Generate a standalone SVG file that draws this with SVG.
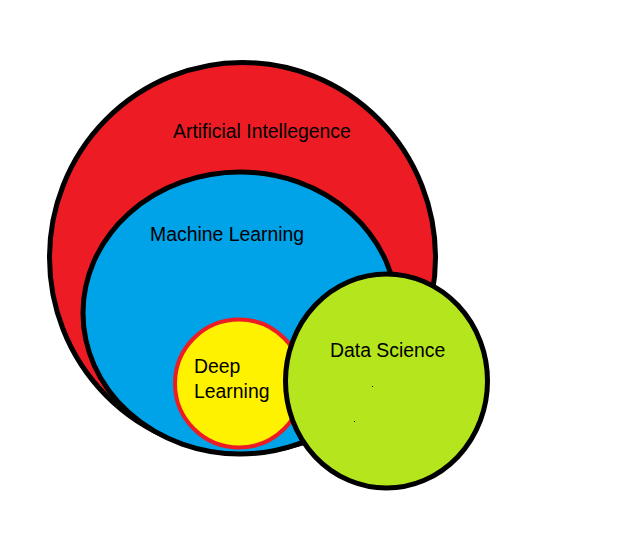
<svg xmlns="http://www.w3.org/2000/svg" width="632" height="558" viewBox="0 0 632 558">
<style>
.ring{stroke:#000;stroke-width:5}
.lbl{font-family:"Liberation Sans",Arial,sans-serif;font-size:19.4px;fill:#000}
</style>
<rect width="632" height="558" fill="#fff"/>
<g id="ai">
<ellipse class="ring" cx="242.5" cy="257.5" rx="193" ry="195" fill="#ed1c24"/>
<text class="lbl" x="173" y="138">Artificial Intellegence</text>
</g>
<g id="ml">
<ellipse class="ring" cx="240" cy="313" rx="157" ry="141" fill="#00a2e8"/>
<text class="lbl" x="150" y="241">Machine Learning</text>
</g>
<g id="dl">
<circle cx="239" cy="383.5" r="64" fill="#fff200" stroke="#ed1c24" stroke-width="4"/>
<text class="lbl" x="194" y="373">Deep</text>
<text class="lbl" x="194" y="398">Learning</text>
</g>
<g id="connectors">
<path d="M290 447 L308 443" stroke="#000" stroke-width="2" fill="none"/>
</g>
<g id="ds">
<ellipse class="ring" cx="386.5" cy="381" rx="101" ry="107" fill="#b5e61d"/>
<text class="lbl" x="330" y="357">Data Science</text>
<rect x="372" y="386" width="1" height="1" fill="#000"/>
<rect x="354" y="421" width="1" height="1" fill="#000"/>
</g>
</svg>
